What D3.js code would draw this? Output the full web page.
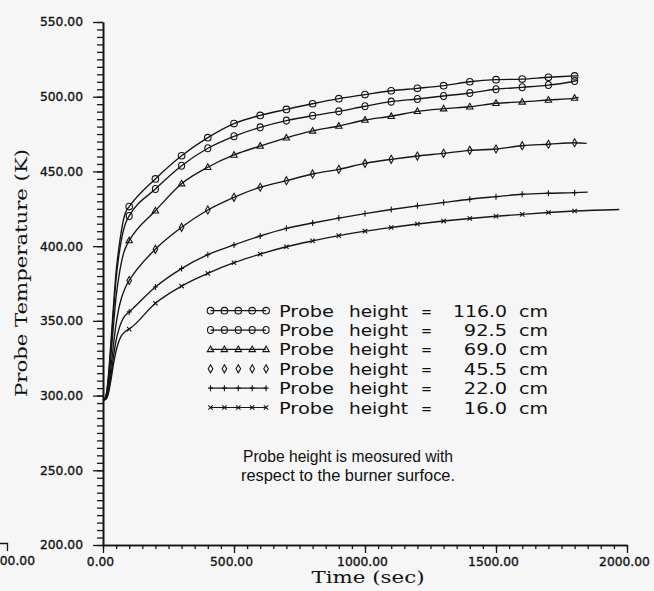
<!DOCTYPE html>
<html>
<head>
<meta charset="utf-8">
<script src="https://cdn.jsdelivr.net/npm/d3@7"></script>
<style>
  html, body { margin: 0; padding: 0; background: #f6f6f6; }
  svg { display: block; }
</style>
</head>
<body>
<svg id="chart" width="654" height="591"></svg>
<script>
// Sample times (s): dense start-up samples, then one sample every 100 s (marked)
const earlyTimes = [0, 10, 20, 30, 40, 50, 60, 70, 80, 90];
const markerTimes = [100, 200, 300, 400, 500, 600, 700, 800, 900, 1000,
                     1100, 1200, 1300, 1400, 1500, 1600, 1700, 1800];

// Probe heights (cm) shown in the legend
const probeHeights = ["116.0", "92.5", "69.0", "45.5", "22.0", "16.0"];

// Probe temperature (K) for each height
const early116 = [297, 299, 312, 335, 360, 383, 398, 410, 419, 424];
const marks116 = [426.5, 445, 460.5, 472.6, 482, 487.5, 491.5, 495.3, 498.7, 501.4,
                  504, 505.6, 507.4, 510, 511.4, 511.8, 513, 513.9];
const end116 = [1810, 514];

const early925 = [297, 299, 310, 332, 356, 378, 393, 404, 412, 417];
const marks925 = [420.2, 438.2, 453.8, 465.5, 473.5, 479.5, 484, 487.3, 490.2, 493.6,
                  496.7, 498.5, 500.5, 502.5, 505, 506.3, 507.8, 510.5];
const end925 = [1810, 511];

const early690 = [297, 298, 307, 326, 347, 366, 379, 389, 396, 400.5];
const marks690 = [403.7, 423.7, 441.8, 452.8, 461, 467, 472.5, 477.1, 480.4, 484.4,
                  486.9, 490.2, 492, 493.3, 495.6, 496.5, 497.8, 499.1];
const end690 = [1815, 499.5];

const early455 = [297, 298, 304, 318, 334, 348, 358, 365, 370, 374];
const marks455 = [377, 397.9, 412.6, 424.2, 432.7, 439.4, 443.8, 448.3, 451.4, 455.4,
                  458.1, 460.3, 462.1, 464.1, 465, 467.2, 468.2, 469.2];
const end455 = [1846, 468.8];

const early220 = [297, 297.5, 302, 313, 326, 337, 344, 349, 352.5, 354.5];
const marks220 = [356, 372.7, 385, 394.3, 400.8, 406.8, 411.9, 415.5, 418.8, 421.8,
                  424.5, 427, 429.2, 431.4, 433.1, 434.7, 435.4, 435.8];
const end220 = [1850, 436.2];

const early160 = [297, 297.5, 301, 310, 321, 330, 336, 340, 342, 343.5];
const marks160 = [344.5, 361.8, 373.3, 381.8, 388.9, 394.7, 399.6, 403.5, 407, 410,
                  412.5, 414.8, 416.8, 418.5, 420, 421.3, 422.5, 423.5];
const end160 = [1970, 424.5];

// Axis ticks
const xTicks = [0, 500, 1000, 1500, 2000];
const yTicks = [200, 250, 300, 350, 400, 450, 500, 550];

// ---------------------------------------------------------------------------
const series = [
  { height: probeHeights[0], early: early116, marks: marks116, end: end116, symbol: "circle" },
  { height: probeHeights[1], early: early925, marks: marks925, end: end925, symbol: "oval" },
  { height: probeHeights[2], early: early690, marks: marks690, end: end690, symbol: "triangle" },
  { height: probeHeights[3], early: early455, marks: marks455, end: end455, symbol: "diamond" },
  { height: probeHeights[4], early: early220, marks: marks220, end: end220, symbol: "plus" },
  { height: probeHeights[5], early: early160, marks: marks160, end: end160, symbol: "cross" }
];

const svg = d3.select("#chart");
const ink = "#151515";

svg.append("rect").attr("width", 654).attr("height", 591).attr("fill", "#f6f6f6");

const x = d3.scaleLinear().domain([0, 2000]).range([103, 627]);
const y = d3.scaleLinear().domain([200, 550]).range([545, 22]);

const fmt = d3.format(".2f");
const tickFont = "'DejaVu Sans', sans-serif";
const styleTickText = sel => sel.attr("fill", "#111").attr("stroke", "#111").attr("stroke-width", 0.35)
  .style("font-family", tickFont).style("font-size", "12.3px");

// ---- x axis: minor ticks every 50 s, labelled majors every 500 s
const xMinor = svg.append("g").attr("transform", `translate(0,${y(200)})`)
  .call(d3.axisBottom(x).tickValues(d3.range(0, 2001, 50)).tickSize(4).tickSizeOuter(0).tickFormat(""));
const xMajor = svg.append("g").attr("transform", `translate(0,${y(200)})`)
  .call(d3.axisBottom(x).tickValues(xTicks).tickSize(8).tickSizeOuter(0).tickPadding(4).tickFormat(fmt));
xMajor.selectAll("text").attr("dx", -3);

// ---- y axis: minor ticks every 5 K, labelled majors every 50 K
const yMinor = svg.append("g").attr("transform", `translate(${x(0)},0)`)
  .call(d3.axisLeft(y).tickValues(d3.range(200, 551, 5)).tickSize(6).tickSizeOuter(0).tickFormat(""));
const yMajor = svg.append("g").attr("transform", `translate(${x(0)},0)`)
  .call(d3.axisLeft(y).tickValues(yTicks).tickSize(10).tickSizeOuter(0).tickPadding(10).tickFormat(fmt));

[xMinor, xMajor, yMinor, yMajor].forEach(g => {
  g.selectAll("path.domain").attr("stroke", ink).attr("stroke-width", 1.6);
  g.selectAll(".tick line").attr("stroke", ink).attr("stroke-width", 1.3);
  g.selectAll("text").call(styleTickText);
});

// Edge of the neighbouring panel's time axis
svg.append("path").attr("d", "M0,543.5H7.5V551").attr("fill", "none")
  .attr("stroke", ink).attr("stroke-width", 1.3);
svg.append("text").attr("x", 35).attr("y", 565).attr("text-anchor", "end")
  .call(styleTickText)
  .text("00.00");

// ---- axis titles
const titleFont = "'DejaVu Serif', 'Liberation Serif', serif";
svg.append("text")
  .attr("transform", `translate(27,273) rotate(-90)`)
  .attr("text-anchor", "middle")
  .attr("textLength", 248).attr("lengthAdjust", "spacingAndGlyphs")
  .style("font-family", titleFont).style("font-size", "16px").attr("fill", "#111")
  .text("Probe Temperature (K)");
svg.append("text")
  .attr("x", 368).attr("y", 583)
  .attr("text-anchor", "middle")
  .attr("textLength", 113).attr("lengthAdjust", "spacingAndGlyphs")
  .style("font-family", titleFont).style("font-size", "16px").attr("fill", "#111")
  .text("Time (sec)");

// ---- marker shapes
function drawMarker(g, kind, cx, cy) {
  const common = sel => sel.attr("fill", "none").attr("stroke", ink).attr("stroke-width", 1.1);
  if (kind === "circle") {
    g.append("circle").attr("cx", cx).attr("cy", cy).attr("r", 3.3).call(common);
  } else if (kind === "oval") {
    g.append("ellipse").attr("cx", cx).attr("cy", cy).attr("rx", 3).attr("ry", 3.5).call(common);
  } else if (kind === "triangle") {
    g.append("path").attr("d", `M${cx},${cy - 3.4}L${cx + 3.2},${cy + 2.2}L${cx - 3.2},${cy + 2.2}Z`).call(common);
  } else if (kind === "diamond") {
    g.append("path").attr("d", `M${cx},${cy - 4}L${cx + 2.3},${cy}L${cx},${cy + 4}L${cx - 2.3},${cy}Z`).call(common);
  } else if (kind === "plus") {
    g.append("path").attr("d", `M${cx},${cy - 3}V${cy + 3}M${cx - 2.5},${cy}H${cx + 2.5}`).call(common);
  } else {
    g.append("path").attr("d", `M${cx - 2.2},${cy - 2.2}L${cx + 2.2},${cy + 2.2}M${cx - 2.2},${cy + 2.2}L${cx + 2.2},${cy - 2.2}`).call(common);
  }
}

// ---- curves
const line = d3.line().x(d => x(d[0])).y(d => y(d[1])).curve(d3.curveMonotoneX);
const plot = svg.append("g");
series.forEach(s => {
  const pts = earlyTimes.map((t, i) => [t, s.early[i]])
    .concat(markerTimes.map((t, i) => [t, s.marks[i]]))
    .concat([s.end]);
  plot.append("path").datum(pts).attr("d", line)
    .attr("fill", "none").attr("stroke", ink).attr("stroke-width", 1.35);
  const mg = plot.append("g");
  markerTimes.forEach((t, i) => drawMarker(mg, s.symbol, x(t), y(s.marks[i])));
});

// ---- legend
const legFont = "'DejaVu Sans', sans-serif";
const legend = svg.append("g");
const rowY = d3.scaleLinear().domain([0, 5]).range([310.7, 407.5]);
series.forEach((s, i) => {
  const cy = rowY(i);
  const sx = d3.range(5).map(k => 210.5 + k * 13.9);
  if (s.symbol !== "diamond") {
    legend.append("line").attr("x1", sx[0]).attr("x2", sx[4]).attr("y1", cy).attr("y2", cy)
      .attr("stroke", ink).attr("stroke-width", 1.2);
  }
  sx.forEach(px => drawMarker(legend, s.symbol, px, cy));
  const base = cy + 6;
  const txt = (tx, anchor, str, len) => {
    const t = legend.append("text").attr("x", tx).attr("y", base).attr("text-anchor", anchor)
      .style("font-family", legFont).style("font-size", "16px").attr("fill", "#111").text(str);
    if (len) t.attr("textLength", len).attr("lengthAdjust", "spacingAndGlyphs");
  };
  txt(279, "start", "Probe", 55);
  txt(349, "start", "height", 59);
  txt(426.5, "middle", "=", 11);
  txt(507, "end", s.height, s.height.length * 10.8);
  txt(519, "start", "cm", 29);
});

// ---- note under the legend
const note = [
  { text: "Probe height is meosured with", x: 243, y: 462, len: 210 },
  { text: "respect to the burner surfoce.", x: 241, y: 481, len: 214 }
];
note.forEach(n => {
  svg.append("text").attr("x", n.x).attr("y", n.y)
    .attr("textLength", n.len).attr("lengthAdjust", "spacingAndGlyphs")
    .style("font-family", "'Liberation Sans', Arial, sans-serif").style("font-size", "16.5px").attr("fill", "#111")
    .text(n.text);
});
</script>
</body>
</html>
